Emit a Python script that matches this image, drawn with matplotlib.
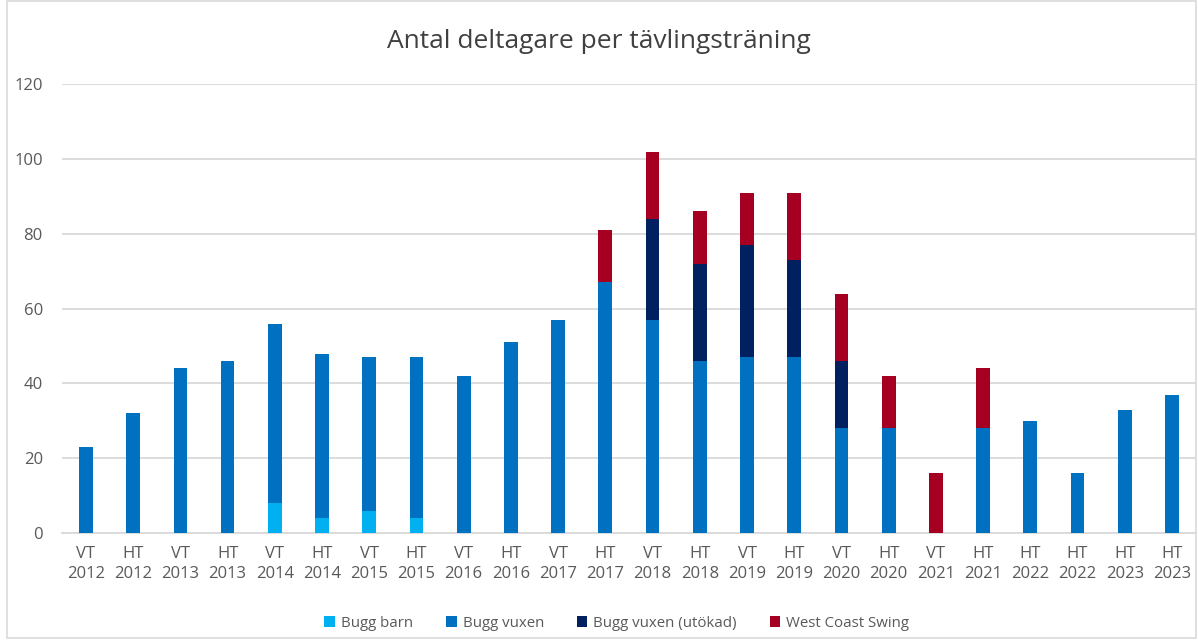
import matplotlib
matplotlib.use("Agg")
import matplotlib.pyplot as plt
from matplotlib.patches import Rectangle, Patch
import numpy as np

plt.rcParams['font.family'] = ['Open Sans', 'DejaVu Sans']

terms = ["VT", "HT", "VT", "HT", "VT", "HT", "VT", "HT", "VT", "HT",
         "VT", "HT", "VT", "HT", "VT", "HT", "VT", "HT", "VT", "HT",
         "HT", "HT", "HT", "HT"]
years = ["2012", "2012", "2013", "2013", "2014", "2014", "2015", "2015",
         "2016", "2016", "2017", "2017", "2018", "2018", "2019", "2019",
         "2020", "2020", "2021", "2021", "2022", "2022", "2023", "2023"]
labels = [f"{t}\n{y}" for t, y in zip(terms, years)]

bugg_barn = [0, 0, 0, 0, 8, 4, 6, 4, 0, 0, 0, 0, 0, 0, 0, 0, 0, 0, 0, 0, 0, 0, 0, 0]
bugg_vuxen = [23, 32, 44, 46, 48, 44, 41, 43, 42, 51, 57, 67, 57, 46, 47, 47, 28, 28, 0, 28, 30, 16, 33, 37]
bugg_utokad = [0, 0, 0, 0, 0, 0, 0, 0, 0, 0, 0, 0, 27, 26, 30, 26, 18, 0, 0, 0, 0, 0, 0, 0]
wcs = [0, 0, 0, 0, 0, 0, 0, 0, 0, 0, 0, 14, 18, 14, 14, 18, 18, 14, 16, 16, 0, 0, 0, 0]

series = [("Bugg barn", bugg_barn, "#00B0F0"),
          ("Bugg vuxen", bugg_vuxen, "#0070C0"),
          ("Bugg vuxen (utökad)", bugg_utokad, "#002060"),
          ("West Coast Swing", wcs, "#A50021")]

fig = plt.figure(figsize=(11.98, 6.43), dpi=100)
ax = fig.add_axes([0.052, 0.171, 0.946, 0.698])

x = np.arange(len(labels))
bottom = np.zeros(len(labels))
for name, vals, col in series:
    v = np.array(vals, dtype=float)
    ax.bar(x, v, bottom=bottom, width=0.29, color=col, label=name, zorder=3)
    bottom += v

ax.set_xlim(-0.5, len(labels) - 0.5)
ax.set_ylim(0, 120)
ax.set_yticks(range(0, 121, 20))
ax.yaxis.grid(True, color="#D9D9D9", linewidth=1.3, zorder=0)
ax.set_axisbelow(True)
for s in ["top", "right", "left"]:
    ax.spines[s].set_visible(False)
ax.spines["bottom"].set_color("#D9D9D9")
ax.spines["bottom"].set_linewidth(1.3)
ax.tick_params(axis="both", length=0, labelsize=12, colors="#595959")
ax.tick_params(axis="y", pad=14)
ax.tick_params(axis="x", pad=9)
ax.set_xticks(x)
ax.set_xticklabels(labels, linespacing=1.35)

fig.text(0.5, 0.935, "Antal deltagare per tävlingsträning", ha="center", va="center",
         fontsize=19, color="#404040")

handles = [Patch(facecolor=c, label=n) for n, _, c in series]
fig.legend(handles=handles, loc="center", bbox_to_anchor=(0.515, 0.031), ncol=4,
           frameon=False, fontsize=10.8, labelcolor="#595959", handlelength=0.7,
           handleheight=0.7, handletextpad=0.4, columnspacing=2.2)

fig.patches.append(Rectangle((0.006, 0.008), 0.992, 0.99, transform=fig.transFigure,
                             fill=False, edgecolor="#D9D9D9", linewidth=1.2))

fig.savefig("out.png", dpi=100)
